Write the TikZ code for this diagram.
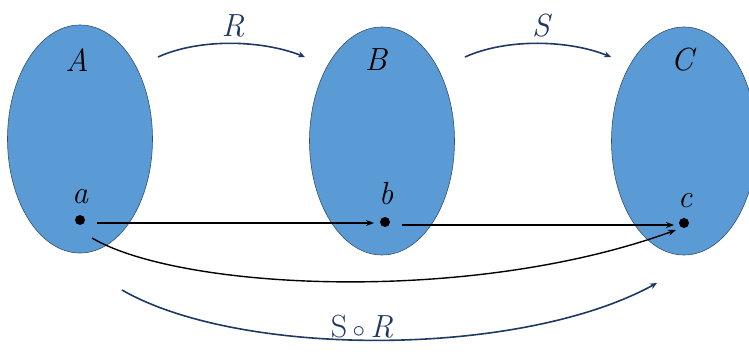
\documentclass[tikz,border=0pt]{standalone}
\usetikzlibrary{shapes.geometric,arrows.meta,calc}
\definecolor{setblue}{HTML}{5B9BD5}
\definecolor{setedge}{HTML}{35506B}
\definecolor{navy}{HTML}{1F3864}
\begin{document}
\begin{tikzpicture}[x=1pt,y=-1pt,
  setshape/.style={ellipse,fill=setblue,draw=setedge,line width=0.6pt,minimum width=145pt,minimum height=228pt,inner sep=0pt},
  lbl/.style={font=\fontsize{32}{38}\selectfont\itshape,inner sep=0pt},
  dotpt/.style={circle,fill=black,minimum size=10pt,inner sep=0pt},
  maparrow/.style={navy,line width=1.6pt,-{Stealth[length=7pt,width=6pt]}},
  elemarrow/.style={black,line width=1.4pt,-{Stealth[length=8pt,width=6pt]}}]
\useasboundingbox (0,0) rectangle (749,358);
\clip (0,0) rectangle (749,358);
\node[setshape] (A) at (80,139) {};
\node[setshape] (B) at (382,141) {};
\node[setshape] (C) at (684,141) {};
\node[lbl] (lA) at (77,60) {A};
\node[lbl] (lB) at (376,60) {B};
\node[lbl] (lC) at (682,60) {C};
\node[dotpt] (a) at (80,220) {};
\node[dotpt] (b) at (385,222) {};
\node[dotpt] (c) at (684,223) {};
\node[lbl] (la) at (80,197) {a};
\node[lbl] (lb) at (386,194) {b};
\node[lbl] (lc) at (685,201) {c};
\draw[elemarrow] ($(a.center)+(17,3)$) -- ($(b.center)+(-11,1)$);
\draw[elemarrow] ($(b.center)+(17,3)$) -- ($(c.center)+(-10,2)$);
\draw[elemarrow] ($(a.center)+(12,18)$) .. controls (180,290) and (470,305) .. ($(c.center)+(-8,7)$);
\coordinate (r1) at (158,57);
\coordinate (r2) at (305,57);
\coordinate (s1) at (465,57);
\coordinate (s2) at (611,57);
\coordinate (c1) at (122,290);
\coordinate (c2) at (657,283);
\draw[maparrow] (r1) .. controls (200,38) and (262,40) .. (r2);
\draw[maparrow] (s1) .. controls (507,38) and (569,40) .. (s2);
\draw[maparrow] (c1) .. controls (240,358) and (520,358) .. (c2);
\node[lbl,text=navy] (lR) at (233,26) {R};
\node[lbl,text=navy] (lS) at (541,26) {S};
\node[lbl,text=navy] (lSR) at (362,327) {\upshape S\,$\circ$\,\itshape R};
\end{tikzpicture}
\end{document}
